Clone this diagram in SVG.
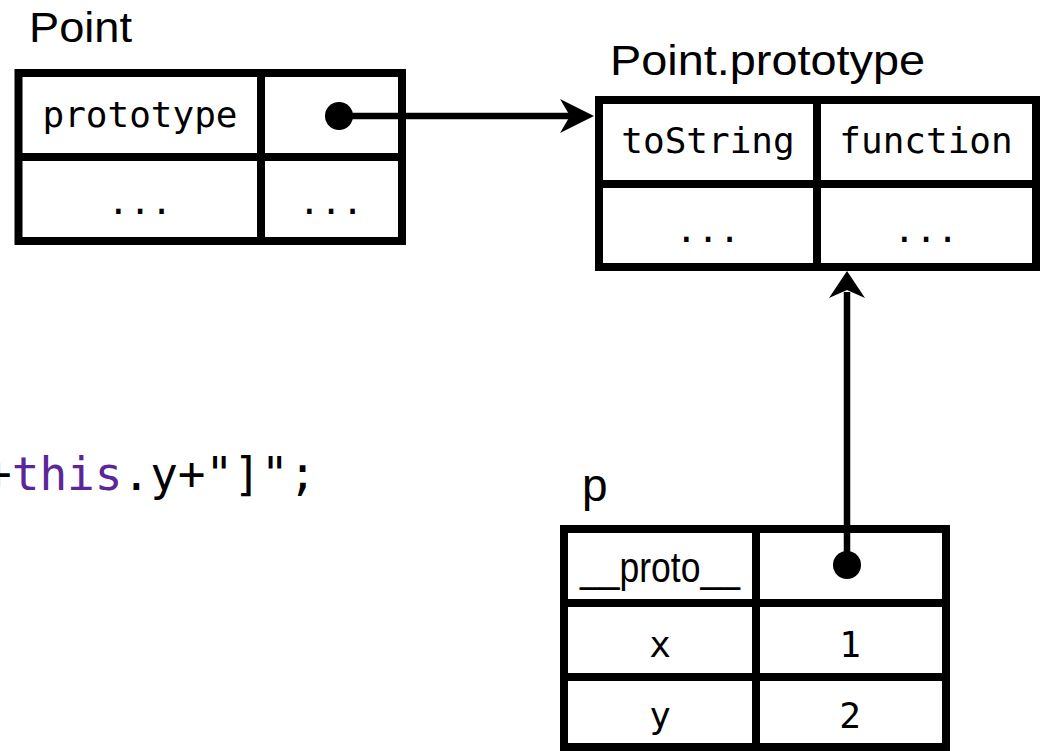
<svg xmlns="http://www.w3.org/2000/svg" width="1044" height="751" viewBox="0 0 1044 751">
  <style>
    .grid { fill: none; stroke: #000; stroke-width: 8; }
    .title { font-family: "Liberation Sans", Arial, sans-serif; font-size: 42px; fill: #000; }
    .mono { font-family: "DejaVu Sans Mono", "Liberation Mono", monospace; font-size: 36px; fill: #000; text-anchor: middle; }
    .code { font-family: "DejaVu Sans Mono", "Liberation Mono", monospace; font-size: 46px; fill: #000; }
    .kw { fill: #5c2699; }
    .wire { stroke: #000; stroke-width: 6.5; fill: none; }
  </style>
  <rect width="1044" height="751" fill="#fff"/>

  <text class="code" x="-16" y="490">+<tspan class="kw">this</tspan>.y+"]";</text>

  <g id="point">
    <text class="title" x="29" y="42" textLength="103" lengthAdjust="spacingAndGlyphs">Point</text>
    <rect class="grid" x="18.5" y="73" width="383.5" height="168"/>
    <line class="grid" x1="18.5" y1="157" x2="402" y2="157"/>
    <line class="grid" x1="261" y1="73" x2="261" y2="241"/>
    <text class="mono" x="140" y="127">prototype</text>
    <text class="mono" x="140" y="214">...</text>
    <text class="mono" x="331" y="214">...</text>
  </g>

  <g id="point-prototype">
    <text class="title" x="610" y="75" textLength="315" lengthAdjust="spacingAndGlyphs">Point.prototype</text>
    <rect class="grid" x="599" y="100" width="437" height="167"/>
    <line class="grid" x1="599" y1="184" x2="1036" y2="184"/>
    <line class="grid" x1="817" y1="100" x2="817" y2="267"/>
    <text class="mono" x="708" y="153">toString</text>
    <text class="mono" x="926" y="153">function</text>
    <text class="mono" x="708" y="242">...</text>
    <text class="mono" x="926" y="242">...</text>
  </g>

  <g id="p">
    <text class="title" x="582" y="501" style="font-size:46px">p</text>
    <rect class="grid" x="564" y="529" width="382" height="218"/>
    <line class="grid" x1="564" y1="603" x2="946" y2="603"/>
    <line class="grid" x1="564" y1="677" x2="946" y2="677"/>
    <line class="grid" x1="756" y1="529" x2="756" y2="747"/>
    <text class="title" x="580" y="582" textLength="160" lengthAdjust="spacingAndGlyphs">__proto__</text>
    <text class="mono" x="660" y="657">x</text>
    <text class="mono" x="850" y="657">1</text>
    <text class="mono" x="660" y="728">y</text>
    <text class="mono" x="850" y="728">2</text>
  </g>

  <g id="connectors">
    <circle cx="339" cy="116" r="14" fill="#000"/>
    <line class="wire" x1="339" y1="116" x2="571" y2="116"/>
    <polygon points="594,116 560,99 570,116 560,133" fill="#000"/>
    <circle cx="847" cy="565" r="14" fill="#000"/>
    <line class="wire" x1="847" y1="565" x2="847" y2="292"/>
    <polygon points="847,271 829,298 847,290 865,298" fill="#000"/>
  </g>
</svg>
